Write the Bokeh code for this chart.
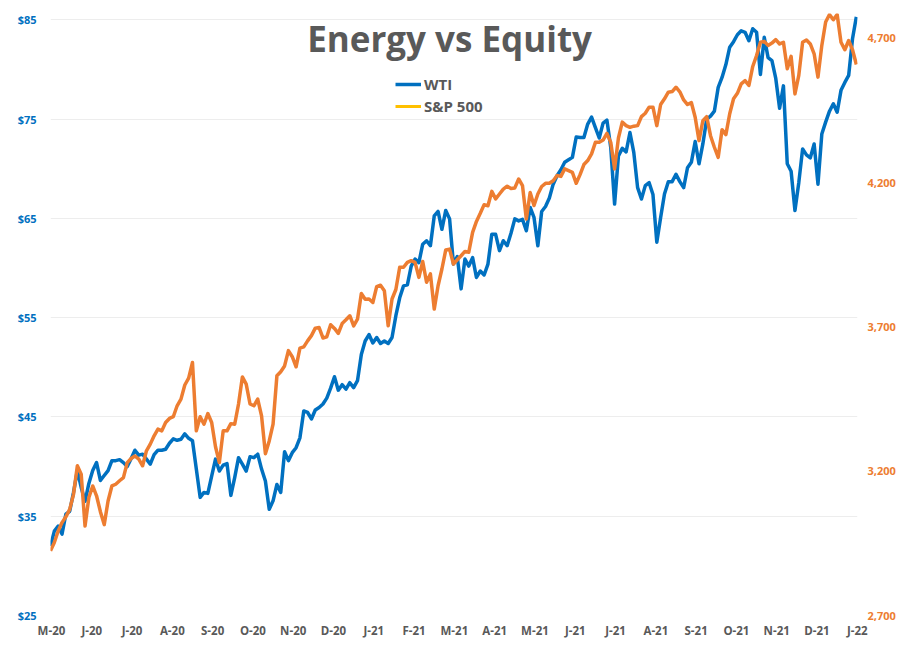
from bokeh.plotting import figure
from bokeh.models import Range1d, LinearAxis, FixedTicker, Legend, LegendItem, Label
from bokeh.embed import file_html
from bokeh.resources import INLINE

# Month tick labels (one every 21 trading days)
months = ["M-20", "J-20", "J-20", "A-20", "S-20", "O-20", "N-20", "D-20", "J-21", "F-21",
          "M-21", "A-21", "M-21", "J-21", "J-21", "A-21", "S-21", "O-21", "N-21", "D-21", "J-22"]

# WTI crude, $ per barrel (sampled every 2 trading days)
wti = [32.0, 33.5, 34.0, 33.2, 35.2, 35.5, 37.4, 39.6, 37.9, 36.5,
       38.3, 39.6, 40.4, 38.6, 39.1, 39.6, 40.6, 40.6, 40.7, 40.4,
       40.0, 40.8, 41.65, 41.15, 41.25, 40.75, 40.25, 41.2, 41.65, 41.65,
       41.75, 42.35, 42.8, 42.65, 42.75, 43.3, 42.85, 42.6, 39.75, 36.9,
       37.4, 37.3, 39.05, 40.75, 39.55, 40.15, 40.3, 37.1, 38.9, 40.9,
       40.25, 39.55, 41.0, 40.9, 41.25, 39.75, 38.55, 35.7, 36.55, 38.2,
       37.4, 41.5, 40.6, 41.4, 41.9, 42.9, 45.6, 45.45, 44.8, 45.7,
       45.95, 46.3, 46.9, 47.9, 49.05, 47.7, 48.25, 47.8, 48.45, 47.95,
       48.65, 51.3, 52.65, 53.3, 52.45, 53.0, 52.4, 52.65, 52.4, 53.0,
       55.2, 57.0, 58.2, 58.3, 60.2, 60.9, 60.55, 62.4, 62.75, 62.25,
       65.25, 65.7, 63.9, 65.8, 64.95, 60.4, 61.15, 57.9, 60.9, 60.2,
       61.05, 59.05, 59.7, 59.3, 60.4, 63.4, 63.4, 61.75, 62.75, 62.25,
       63.5, 64.95, 64.75, 64.9, 63.75, 66.1, 65.1, 62.25, 65.7, 66.2,
       67.05, 68.45, 69.3, 69.9, 70.65, 70.9, 71.15, 73.2, 73.15, 73.15,
       74.5, 75.2, 74.15, 73.1, 74.6, 74.9, 72.15, 66.45, 71.3, 72.05,
       71.7, 73.65, 71.65, 68.1, 66.95, 68.3, 68.6, 67.4, 62.6, 65.1,
       67.45, 68.7, 68.7, 69.45, 68.7, 68.1, 70.1, 70.65, 72.75, 70.5,
       72.5, 75.0, 75.3, 75.8, 78.2, 79.2, 80.5, 82.25, 82.8, 83.5,
       83.9, 83.75, 82.9, 84.1, 83.75, 79.5, 83.25, 81.2, 80.9, 79.1,
       76.1, 78.35, 70.5, 69.75, 65.8, 68.6, 72.0, 71.4, 71.1, 72.5,
       68.45, 73.5, 74.7, 75.8, 76.55, 75.7, 77.9, 78.7, 79.4, 83.1,
       85.3]

# S&P 500 index level (same dates)
spx = [2924, 2953, 2993, 3022, 3042, 3068, 3120, 3219, 3190, 3010,
       3109, 3149, 3115, 3060, 3015, 3097, 3149, 3155, 3167, 3178,
       3230, 3244, 3253, 3242, 3219, 3271, 3294, 3323, 3346, 3340,
       3369, 3383, 3389, 3427, 3450, 3499, 3523, 3577, 3340, 3389,
       3363, 3400, 3369, 3285, 3230, 3340, 3340, 3365, 3363, 3433,
       3527, 3502, 3433, 3427, 3450, 3392, 3261, 3305, 3363, 3531,
       3545, 3565, 3618, 3597, 3562, 3627, 3631, 3652, 3670, 3696,
       3698, 3662, 3666, 3708, 3695, 3678, 3712, 3725, 3739, 3704,
       3727, 3816, 3796, 3797, 3785, 3840, 3845, 3826, 3704, 3797,
       3830, 3907, 3907, 3924, 3930, 3924, 3872, 3927, 3855, 3884,
       3762, 3843, 3901, 3967, 3970, 3918, 3933, 3947, 3962, 3959,
       4028, 4066, 4094, 4124, 4120, 4170, 4144, 4161, 4178, 4188,
       4180, 4182, 4213, 4190, 4074, 4166, 4121, 4161, 4187, 4198,
       4198, 4207, 4225, 4222, 4248, 4242, 4236, 4198, 4228, 4263,
       4277, 4300, 4340, 4340, 4348, 4371, 4340, 4248, 4355, 4410,
       4398, 4392, 4396, 4398, 4429, 4441, 4462, 4462, 4398, 4471,
       4491, 4514, 4516, 4531, 4515, 4487, 4471, 4478, 4427, 4346,
       4415, 4429, 4363, 4323, 4288, 4384, 4367, 4439, 4491, 4510,
       4543, 4554, 4537, 4603, 4641, 4687, 4690, 4676, 4684, 4696,
       4681, 4687, 4595, 4638, 4508, 4572, 4687, 4695, 4681, 4647,
       4566, 4676, 4757, 4783, 4765, 4783, 4687, 4661, 4693, 4661,
       4610]

wti_ticks = [25, 35, 45, 55, 65, 75, 85]
spx_ticks = [2700, 3200, 3700, 4200, 4700]

days = [2 * i for i in range(len(wti))]
month_ticks = [21 * k + 0.5 for k in range(len(months))]

BLUE = "#0070C0"
ORANGE = "#ED7D31"
GOLD = "#FFC000"
GREY = "#595959"
FONT = "Open Sans"

p = figure(width=910, height=659, output_backend="svg", toolbar_location=None,
           x_range=Range1d(0, 420.6), y_range=Range1d(25, 85.64),
           min_border_left=50, min_border_right=53, min_border_top=13, min_border_bottom=44)
p.outline_line_color = None
p.background_fill_color = "white"
p.border_fill_color = "white"
p.extra_y_ranges = {"spx": Range1d(2700, 4786.6)}


def style_axis(ax, color, size, standoff):
    ax.axis_line_color = None
    ax.major_tick_line_color = None
    ax.minor_tick_line_color = None
    ax.major_tick_out = 0
    ax.major_tick_in = 0
    ax.minor_tick_out = 0
    ax.minor_tick_in = 0
    ax.major_label_standoff = standoff
    ax.major_label_text_font = FONT
    ax.major_label_text_font_style = "bold"
    ax.major_label_text_font_size = size
    ax.major_label_text_color = color


# x axis
xa = p.xaxis[0]
xa.ticker = FixedTicker(ticks=month_ticks)
xa.major_label_overrides = {t: m for t, m in zip(month_ticks, months)}
style_axis(xa, GREY, "11.5px", 7)

# left axis
ya = p.yaxis[0]
ya.ticker = FixedTicker(ticks=wti_ticks)
ya.major_label_overrides = {t: "$%d" % t for t in wti_ticks}
style_axis(ya, BLUE, "11px", 14)

# right axis
ra = LinearAxis(y_range_name="spx", ticker=FixedTicker(ticks=spx_ticks))
ra.major_label_overrides = {t: "{:,}".format(t) for t in spx_ticks}
style_axis(ra, ORANGE, "11px", 10)
p.add_layout(ra, "right")

p.xgrid.visible = False
p.ygrid.grid_line_color = "#EDEDED"
p.ygrid.grid_line_width = 1

wti_r = p.line(days, wti, line_color=BLUE, line_width=3.5, line_join="round")
spx_r = p.line(days, spx, line_color=ORANGE, line_width=3.5, line_join="round",
               y_range_name="spx")
# legend-only swatch (the chart's legend shows the S&P 500 key in gold)
dummy = p.line(x=[0], y=[float("nan")], line_color=GOLD, line_width=3)

legend = Legend(items=[LegendItem(label="WTI", renderers=[wti_r]),
                       LegendItem(label="S&P 500", renderers=[dummy])],
                location=(345, 498), orientation="vertical",
                padding=0, margin=0, spacing=0, label_standoff=3,
                glyph_width=26, glyph_height=22, label_height=22,
                label_text_font=FONT, label_text_font_size="15px",
                label_text_font_style="bold", label_text_color=GREY,
                background_fill_alpha=0, border_line_color=None)
p.add_layout(legend)

title = Label(x=208, y=83.1, text="Energy vs Equity", text_align="center",
              text_baseline="alphabetic", text_font=FONT, text_font_size="35px",
              text_font_style="bold", text_color=GREY)
p.add_layout(title)

open("out.html", "w").write(file_html(p, INLINE))
